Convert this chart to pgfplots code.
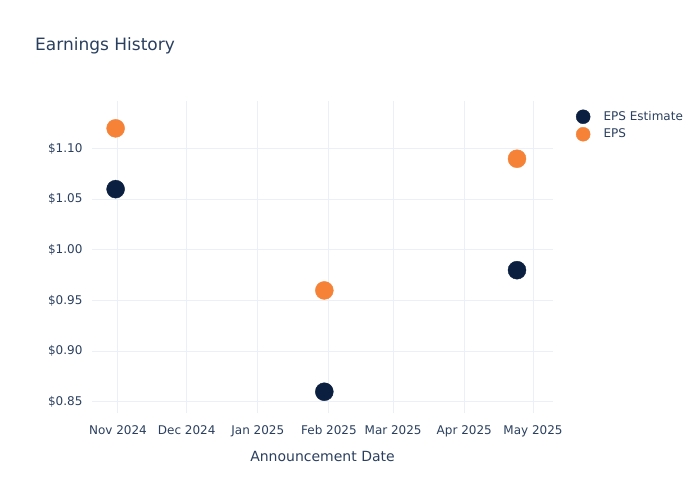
\documentclass[border=0pt]{standalone}
\usepackage{pgfplots}
\pgfplotsset{compat=1.18}
\usepackage{fontspec}
\setmainfont{DejaVu Sans}
\definecolor{navy}{RGB}{11,31,64}
\definecolor{orng}{RGB}{245,130,55}
\definecolor{gridc}{RGB}{235,240,248}
\definecolor{txt}{RGB}{42,63,95}
\begin{document}
\begin{tikzpicture}[x=1pt,y=1pt]
\path[use as bounding box] (0,0) rectangle (700,500);
\node[anchor=west,text=txt,font=\fontsize{17}{20}\selectfont,inner sep=0] at (35,454) {Earnings History};
\begin{axis}[
  at={(92pt,87pt)}, anchor=south west,
  scale only axis, width=461pt, height=312pt,
  xmin=-11.3, xmax=189.7, ymin=0.839, ymax=1.147,
  xtick={0,30,61,92,120,151,181},
  xticklabels={Nov 2024,Dec 2024,Jan 2025,Feb 2025,Mar 2025,Apr 2025,May 2025},
  ytick={0.85,0.90,0.95,1.00,1.05,1.10},
  yticklabels={\$0.85,\$0.90,\$0.95,\$1.00,\$1.05,\$1.10},
  grid=major, major grid style={gridc, line width=1pt},
  axis line style={draw=none}, major tick length=0pt,
  tick label style={text=txt, font=\fontsize{12}{14}\selectfont},
  yticklabel style={xshift=-6pt},
  xticklabel style={yshift=-9pt},
  xlabel={Announcement Date},
  xlabel style={text=txt, font=\fontsize{14}{16}\selectfont, yshift=-7pt},
  legend style={at={(axis description cs:1.04,0.98)}, anchor=north west, draw=none, fill=none,
    font=\fontsize{12}{14}\selectfont, text=txt, row sep=3pt},
  legend cell align=left,
  legend image code/.code={\path[draw=none,fill=none] (0,0) rectangle (27pt,0.1pt);\draw[#1, mark size=7pt] plot coordinates {(0.3cm,0cm)};},
]
\addplot[only marks, mark=*, mark size=9pt, color=navy, mark options={draw=navy, fill=navy}]
  coordinates {(-1,1.06) (90,0.86) (174,0.98)};
\addlegendentry{EPS Estimate}
\addplot[only marks, mark=*, mark size=9pt, color=orng, mark options={draw=orng, fill=orng}]
  coordinates {(-1,1.12) (90,0.96) (174,1.09)};
\addlegendentry{EPS}
\end{axis}
\end{tikzpicture}
\end{document}
